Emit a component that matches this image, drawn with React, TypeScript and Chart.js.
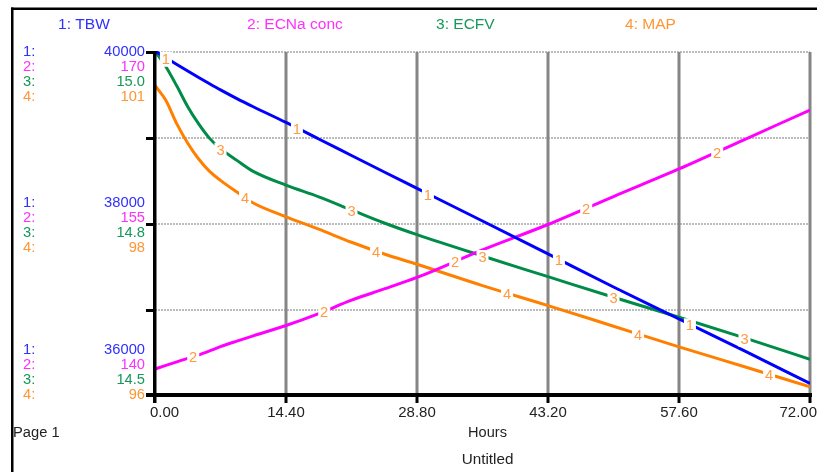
import React, { useEffect, useRef } from "react";
import { Chart, registerables } from "chart.js";
Chart.register(...registerables);

// ---- data ----
const hours = [0, 1.2, 2.4, 3.6, 4.8, 6, 7.2, 9, 10.8, 14.4, 18, 21.6, 25.2, 28.8, 36, 43.2, 50.4, 57.6, 64.8, 72];
const tbw = [40000, 39921, 39843, 39767, 39692, 39619, 39548, 39447, 39352, 39169, 38977, 38785, 38593, 38403, 38023, 37640, 37256, 36884, 36512, 36134];
const ecnaConc = [142.27, 142.58, 142.89, 143.2, 143.5, 143.85, 144.22, 144.7, 145.16, 146.06, 147.1, 148.27, 149.25, 150.25, 152.65, 154.87, 157.31, 159.71, 162.28, 164.85];
const ecfv = [15.0, 14.977, 14.949, 14.919, 14.894, 14.873, 14.858, 14.841, 14.825, 14.805, 14.788, 14.769, 14.75, 14.733, 14.702, 14.672, 14.642, 14.613, 14.583, 14.552];
const mapVals = [100.5, 100.28, 99.94, 99.66, 99.43, 99.25, 99.12, 98.95, 98.79, 98.59, 98.41, 98.22, 98.05, 97.9, 97.59, 97.3, 97.0, 96.7, 96.41, 96.12];

const seriesNames = ["1: TBW", "2: ECNa conc", "3: ECFV", "4: MAP"];
const seriesNums = ["1", "2", "3", "4"];
const axisMins = [36000, 140, 14.5, 96];
const axisMaxs = [40000, 170, 15.0, 101];
const axisTopLabels = ["40000", "170", "15.0", "101"];
const axisMidLabels = ["38000", "155", "14.8", "98"];
const axisBottomLabels = ["36000", "140", "14.5", "96"];
const xTicks = [0, 14.4, 28.8, 43.2, 57.6, 72];
const xTickLabels = ["0.00", "14.40", "28.80", "43.20", "57.60", "72.00"];
const yGridTbw = [40000, 39000, 38000, 37000];
const labelStarts = [1.2, 4.2, 7.2, 9.9];
const labelStep = 14.4;

const lineColors = ["#0000ff", "#ff00ff", "#008c48", "#ff8000"];
const textColors = ["#3030ff", "#ff30ff", "#16985a", "#ff9636"];
const markColor = "#ff9a40";
const FONT = '14px "Liberation Sans", Arial, sans-serif';

const allSeries = [tbw, ecnaConc, ecfv, mapVals];

function txt(ctx: CanvasRenderingContext2D, s: string, x: number, y: number, align: CanvasTextAlign, color: string, sx = 1.07) {
  ctx.save();
  ctx.translate(x, y);
  ctx.scale(sx, 1);
  ctx.font = FONT;
  ctx.textAlign = align;
  ctx.textBaseline = "middle";
  ctx.fillStyle = color;
  ctx.fillText(s, 0, 0);
  ctx.restore();
}

function interp(xsArr: number[], ys: number[], t: number) {
  for (let i = 0; i < xsArr.length - 1; i++) {
    if (t >= xsArr[i] && t <= xsArr[i + 1]) {
      const f = (t - xsArr[i]) / (xsArr[i + 1] - xsArr[i]);
      return ys[i] + f * (ys[i + 1] - ys[i]);
    }
  }
  return ys[ys.length - 1];
}

const stellaPlugin = {
  id: "stella",
  beforeDatasetsDraw(chart: any) {
    const ctx = chart.ctx as CanvasRenderingContext2D;
    const a = chart.chartArea;
    const xs = chart.scales.x;
    const y1 = chart.scales.y1;
    ctx.save();
    // horizontal dotted grid
    ctx.strokeStyle = "#bcbcbc";
    ctx.lineWidth = 2;
    ctx.setLineDash([2, 1]);
    yGridTbw.forEach((v) => {
      const y = Math.round(y1.getPixelForValue(v)) + 1;
      ctx.beginPath();
      ctx.moveTo(a.left, y);
      ctx.lineTo(a.right, y);
      ctx.stroke();
    });
    ctx.setLineDash([]);
    // vertical grid
    ctx.fillStyle = "#868686";
    xTicks.slice(1).forEach((t) => {
      const x = xs.getPixelForValue(t);
      ctx.fillRect(x - 1.5, a.top + 1, 3, a.bottom - a.top);
    });
    ctx.restore();
  },
  afterDatasetsDraw(chart: any) {
    const ctx = chart.ctx as CanvasRenderingContext2D;
    const a = chart.chartArea;
    const xs = chart.scales.x;
    const y1 = chart.scales.y1;
    ctx.save();
    // curve number labels
    allSeries.forEach((vals, i) => {
      const ys = chart.scales["y" + (i + 1)];
      for (let t = labelStarts[i]; t < 72; t += labelStep) {
        const x = xs.getPixelForValue(t);
        const y = ys.getPixelForValue(interp(hours, vals, t)) + 2;
        ctx.fillStyle = "#ffffff";
        ctx.fillRect(x - 6, y - 8, 12, 15);
        txt(ctx, seriesNums[i], x, y, "center", markColor, 1.05);
      }
    });
    // axes
    ctx.fillStyle = "#000000";
    ctx.fillRect(a.left - 2, a.top, 3.5, a.bottom - a.top + 8);
    ctx.fillRect(a.left - 9, a.bottom - 2, a.right - a.left + 11, 4);
    yGridTbw.forEach((v) => {
      const y = Math.round(y1.getPixelForValue(v));
      ctx.fillRect(a.left - 9, y, 9, 3);
    });
    xTicks.slice(1).forEach((t) => {
      const x = xs.getPixelForValue(t);
      ctx.fillRect(x - 1.5, a.bottom, 3, 8);
    });
    // outer frame
    ctx.fillRect(11, 7.5, 806, 2.5);
    ctx.fillRect(11, 7.5, 2.5, 465);
    // legend
    seriesNames.forEach((n, i) => {
      txt(ctx, n, 58 + 189 * i, 25, "left", textColors[i], 1.11);
    });
    // left axis labels
    const groups = [
      { labels: axisTopLabels, y0: a.top + 1.5 },
      { labels: axisMidLabels, y0: (a.top + a.bottom) / 2 - 20 },
      { labels: axisBottomLabels, y0: a.bottom - 45 },
    ];
    groups.forEach((g) => {
      g.labels.forEach((lab, i) => {
        const y = g.y0 + 15 * i;
        txt(ctx, seriesNums[i] + ":", 23, y, "left", textColors[i], 1.05);
        txt(ctx, lab, 145, y, "right", textColors[i], 1.05);
      });
    });
    // x tick labels
    xTicks.forEach((t, i) => {
      const x = xs.getPixelForValue(t);
      const y = a.bottom + 18;
      if (i === 0) txt(ctx, xTickLabels[i], x - 5, y, "left", "#222222");
      else if (i === xTicks.length - 1) txt(ctx, xTickLabels[i], 817, y, "right", "#222222");
      else txt(ctx, xTickLabels[i], x, y, "center", "#222222");
    });
    txt(ctx, "Hours", (a.left + a.right) / 2 + 5, a.bottom + 38, "center", "#222222", 1.04);
    txt(ctx, "Untitled", (a.left + a.right) / 2 + 5, a.bottom + 65, "center", "#222222", 1.09);
    txt(ctx, "Page 1", 13, a.bottom + 38, "left", "#222222", 1.05);
    ctx.restore();
  },
};

export default function App() {
  const ref = useRef<HTMLCanvasElement | null>(null);
  useEffect(() => {
    if (!ref.current) return;
    const datasets = allSeries.map((vals, i) => ({
      label: seriesNames[i],
      data: hours.map((h, k) => ({ x: h, y: vals[k] })),
      borderColor: lineColors[i],
      backgroundColor: lineColors[i],
      borderWidth: 3,
      pointRadius: 0,
      cubicInterpolationMode: "monotone",
      fill: false,
      yAxisID: "y" + (i + 1),
    }));
    const scales: any = {
      x: { type: "linear", min: 0, max: 72, display: false },
    };
    for (let i = 0; i < 4; i++) {
      scales["y" + (i + 1)] = { type: "linear", min: axisMins[i], max: axisMaxs[i], display: false };
    }
    const chart = new Chart(ref.current, {
      type: "line",
      data: { datasets },
      options: {
        responsive: false,
        animation: false,
        layout: { padding: { left: 155, top: 51, right: 7, bottom: 77 } },
        plugins: { legend: { display: false }, tooltip: { enabled: false }, title: { display: false } },
        scales,
      },
      plugins: [stellaPlugin],
    } as any);
    return () => chart.destroy();
  }, []);
  return (
    <div style={{ position: "fixed", left: 0, top: 0, width: 817, height: 472, background: "#fff" }}>
      <canvas ref={ref} width={817} height={472} style={{ width: 817, height: 472, display: "block" }} />
    </div>
  );
}
